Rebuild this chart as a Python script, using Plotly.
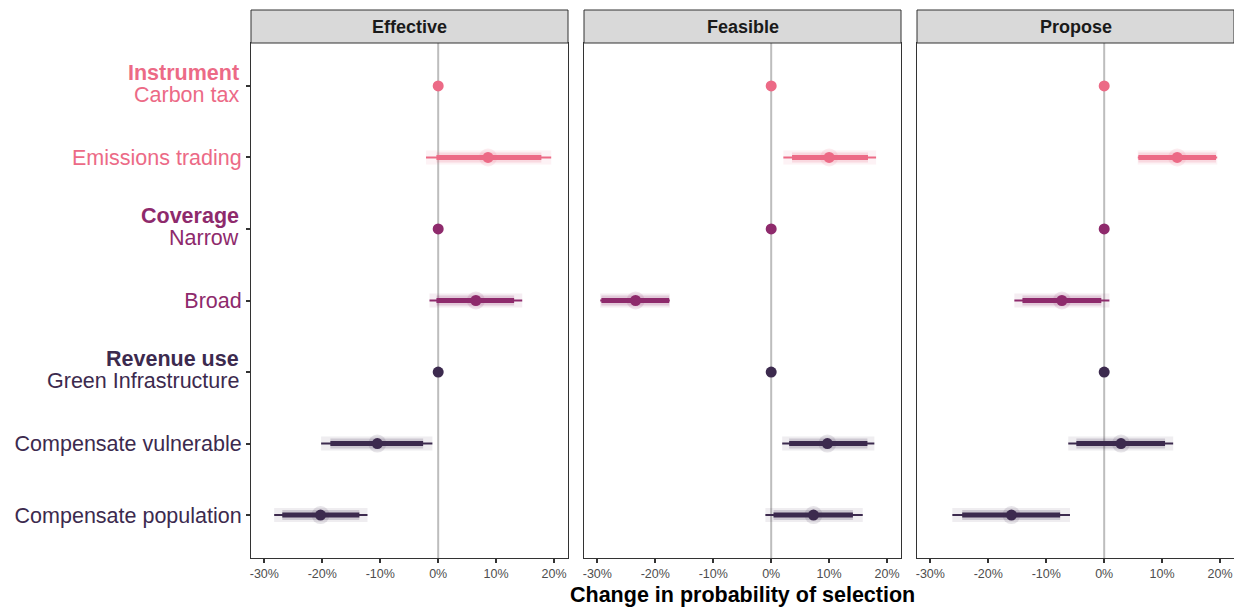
import plotly.graph_objects as go

panels = ["Effective", "Feasible", "Propose"]
headers = ["Instrument", None, "Coverage", None, "Revenue use", None, None]
labels = ["Carbon tax", "Emissions trading", "Narrow", "Broad",
          "Green Infrastructure", "Compensate vulnerable", "Compensate population"]
groups = ["Instrument", "Instrument", "Coverage", "Coverage", "Revenue", "Revenue", "Revenue"]
colors = {"Instrument": "#EC6A86", "Coverage": "#8E2A6C", "Revenue": "#3C2A4E"}
x_ticks = [-30, -20, -10, 0, 10, 20]
x_tick_text = ["-30%", "-20%", "-10%", "0%", "10%", "20%"]

# estimates (percentage points); reference levels are 0 with no interval
est = {
    "Effective": [0, 8.6, 0, 6.5, 0, -10.5, -20.3],
    "Feasible":  [0, 10.0, 0, -23.4, 0, 9.7, 7.3],
    "Propose":   [0, 12.6, 0, -7.3, 0, 2.9, -16.0],
}
# 95% intervals (thin)
lo95 = {
    "Effective": [None, -2.1, None, -1.5, None, -20.2, -28.3],
    "Feasible":  [None, 2.1, None, -29.5, None, 1.9, -1.0],
    "Propose":   [None, 5.8, None, -15.5, None, -6.2, -26.2],
}
hi95 = {
    "Effective": [None, 19.5, None, 14.5, None, -1.0, -12.2],
    "Feasible":  [None, 18.1, None, -17.5, None, 17.8, 15.8],
    "Propose":   [None, 19.5, None, 0.9, None, 11.9, -5.9],
}
# 66% intervals (thick)
lo66 = {
    "Effective": [None, -0.3, None, -0.3, None, -18.6, -26.9],
    "Feasible":  [None, 3.6, None, -29.3, None, 3.1, 0.4],
    "Propose":   [None, 5.9, None, -14.1, None, -4.8, -24.5],
}
hi66 = {
    "Effective": [None, 17.8, None, 13.1, None, -2.6, -13.6],
    "Feasible":  [None, 16.7, None, -17.6, None, 16.6, 14.1],
    "Propose":   [None, 19.3, None, -0.5, None, 10.5, -7.6],
}

OFF = 8  # page body margin
W, H = 1242 - OFF, 610 - OFF
px = [(251 - OFF, 568 - OFF), (584 - OFF, 901 - OFF), (917 - OFF, 1234 - OFF)]
top, bot = 43 - OFF, 558 - OFF
strip_top = 10 - OFF
xrange_ = [-32.3, 22.4]
LAB_SIZE = 21.5

fig = go.Figure()
layout = {}
for i, p in enumerate(panels):
    xa = "x" if i == 0 else f"x{i+1}"
    ya = "y" if i == 0 else f"y{i+1}"
    fig.add_trace(go.Scatter(x=[0, 0], y=[0.4, 7.6], mode="lines",
                             line=dict(color="#BDBDBD", width=2),
                             xaxis=xa, yaxis=ya, showlegend=False, hoverinfo="skip"))
    for j in range(len(labels)):
        c = colors[groups[j]]
        yv = j + 1
        if lo95[p][j] is not None:
            fig.add_trace(go.Scatter(x=[lo95[p][j], hi95[p][j]], y=[yv, yv], mode="lines",
                                     line=dict(color=c, width=14), opacity=0.08,
                                     xaxis=xa, yaxis=ya, showlegend=False, hoverinfo="skip"))
            fig.add_trace(go.Scatter(x=[lo66[p][j], hi66[p][j]], y=[yv, yv], mode="lines",
                                     line=dict(color=c, width=10), opacity=0.18,
                                     xaxis=xa, yaxis=ya, showlegend=False, hoverinfo="skip"))
            fig.add_trace(go.Scatter(x=[est[p][j]], y=[yv], mode="markers",
                                     marker=dict(color=c, size=18), opacity=0.12,
                                     xaxis=xa, yaxis=ya, showlegend=False, hoverinfo="skip"))
            fig.add_trace(go.Scatter(x=[lo95[p][j], hi95[p][j]], y=[yv, yv], mode="lines",
                                     line=dict(color=c, width=2),
                                     xaxis=xa, yaxis=ya, showlegend=False, hoverinfo="skip"))
            fig.add_trace(go.Scatter(x=[lo66[p][j], hi66[p][j]], y=[yv, yv], mode="lines",
                                     line=dict(color=c, width=5),
                                     xaxis=xa, yaxis=ya, showlegend=False, hoverinfo="skip"))
        fig.add_trace(go.Scatter(x=[est[p][j]], y=[yv], mode="markers",
                                 marker=dict(color=c, size=11),
                                 xaxis=xa, yaxis=ya, showlegend=False))
    d0, d1 = px[i][0] / W, px[i][1] / W
    layout["xaxis" if i == 0 else f"xaxis{i+1}"] = dict(
        domain=[d0, d1], range=xrange_, tickvals=x_ticks, ticktext=x_tick_text,
        showgrid=False, zeroline=False, showline=True, mirror=True,
        linecolor="#333333", linewidth=1, ticks="outside", ticklen=4, tickwidth=1.5,
        tickcolor="#333333", tickfont=dict(size=12.5, color="#4D4D4D"),
        anchor=ya, fixedrange=True)
    yd = dict(domain=[1 - bot / H, 1 - top / H], range=[7.6, 0.4],
              showgrid=False, zeroline=False, showline=True, mirror=True,
              linecolor="#333333", linewidth=1, anchor=xa, fixedrange=True)
    if i == 0:
        tt = []
        for k in range(7):
            if headers[k] is None:
                tt.append(f"<span style='color:{colors[groups[k]]}'>{labels[k]}</span>")
            else:
                tt.append(" ")
        yd.update(tickvals=list(range(1, 8)), ticktext=tt,
                  ticks="outside", ticklen=4, tickwidth=1.5, tickcolor="#333333",
                  tickfont=dict(size=LAB_SIZE))
    else:
        yd.update(showticklabels=False, ticks="")
    layout["yaxis" if i == 0 else f"yaxis{i+1}"] = yd
    fig.add_shape(type="rect", xref="paper", yref="paper", x0=d0, x1=d1,
                  y0=1 - top / H, y1=1 - strip_top / H,
                  fillcolor="#D9D9D9", line=dict(color="#333333", width=1))
    fig.add_annotation(text=f"<b>{p}</b>", xref="paper", yref="paper",
                       x=(d0 + d1) / 2, y=1 - (top + strip_top) / 2 / H,
                       showarrow=False, font=dict(size=18, color="#1A1A1A"),
                       xanchor="center", yanchor="middle")

# two-line category labels (group header + level)
lab_x = (240.5 - OFF) / W
for k in range(7):
    if headers[k] is not None:
        c = colors[groups[k]]
        fig.add_annotation(text=f"<b>{headers[k]}</b>", xref="paper", yref="y",
                           x=lab_x, y=k + 1 - 0.18, showarrow=False, xanchor="right",
                           yanchor="middle", font=dict(size=LAB_SIZE, color=c))
        fig.add_annotation(text=labels[k], xref="paper", yref="y",
                           x=lab_x, y=k + 1 + 0.12, showarrow=False, xanchor="right",
                           yanchor="middle", font=dict(size=LAB_SIZE, color=c))

fig.add_annotation(text="<b>Change in probability of selection</b>", xref="paper", yref="paper",
                   x=(px[0][0] + px[2][1]) / 2 / W, y=1 - (595 - OFF) / H, showarrow=False,
                   font=dict(size=21.5, color="#000000"), xanchor="center", yanchor="middle")

fig.update_layout(width=W, height=H, margin=dict(l=0, r=0, t=0, b=0),
                  plot_bgcolor="white", paper_bgcolor="white",
                  font=dict(family="Liberation Sans, Arial, sans-serif"),
                  showlegend=False, **layout)
fig.write_html("out.html")
